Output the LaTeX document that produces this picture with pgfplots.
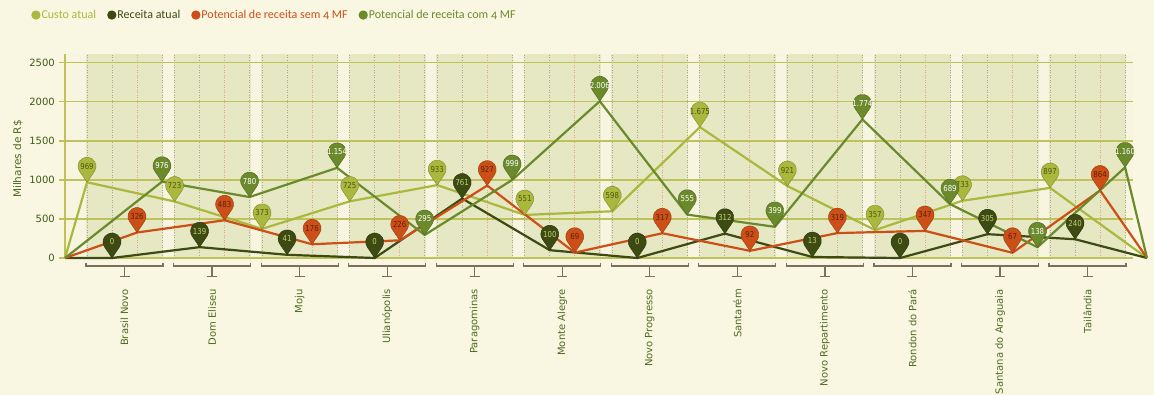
\documentclass[border=0pt]{standalone}
\usepackage{pgfplots}
\pgfplotsset{compat=1.18}
\usepackage{graphicx}
\usepackage{fontspec}
\setmainfont{DejaVu Sans}
\newfontfamily\legfont[Numbers=OldStyle]{Carlito}
\newcommand\tickfont{\fontsize{10bp}{12bp}\selectfont}
\newcommand\pinfont{\fontsize{8.2bp}{9bp}\selectfont}
\definecolor{pagebg}{HTML}{F9F6E2}
\definecolor{plotbg}{HTML}{F7F5E0}
\definecolor{band}{HTML}{E5E8C2}
\definecolor{gridc}{HTML}{BFC25A}
\definecolor{dotg}{HTML}{A9A98F}
\definecolor{dotr}{HTML}{E0A585}
\definecolor{custo}{HTML}{AAB83E}
\definecolor{receita}{HTML}{3D4A12}
\definecolor{potsem}{HTML}{CC4F18}
\definecolor{potcom}{HTML}{6B8A2C}
\definecolor{custotxt}{HTML}{4B5A0E}
\definecolor{receitatxt}{HTML}{C5CF72}
\definecolor{potsemtxt}{HTML}{5A220A}
\definecolor{brk}{HTML}{7D6E5E}
\definecolor{labg}{HTML}{4E6B1F}
\definecolor{tickg}{HTML}{3F5A16}
\pgfdeclareplotmark{pin}{%
  \pgfpathmoveto{\pgfpointorigin}%
  \pgfpathlineto{\pgfpoint{7.44bp}{10.94bp}}%
  \pgfpatharc{-34.2}{214.2}{9bp}%
  \pgfpathclose
  \pgfusepathqfillstroke}
\pgfplotsset{pinlabels/.style={nodes near coords={\scalebox{0.85}[1]{\pgfmathprintnumber{\pgfplotspointmeta}}},
  every node near coord/.append style={anchor=center, yshift=16bp, inner sep=0pt, font=\pinfont, text=#1}}}
\begin{document}
\begin{tikzpicture}
\fill[pagebg] (0,0) rectangle (1154bp,-395bp);
\useasboundingbox (0,0) rectangle (1154bp,-395bp);
\begin{axis}[
  at={(65bp,-258bp)}, anchor=south west,
  scale only axis, width=1068bp, height=204bp,
  xmin=0, xmax=1068, ymin=0, ymax=2610,
  clip=false,
  axis line style={draw=none},
  major tick length=0pt,
  ytick={0,500,1000,1500,2000,2500},
  xtick={59.5,147.05,234.6,322.15,409.7,497.25,584.8,672.35,759.9,847.45,935,1022.55},
  xticklabels={Brasil Novo,Dom Eliseu,Moju,Ulianópolis,Paragominas,Monte Alegre,Novo Progresso,Santarém,Novo Repartimento,Rondon do Pará,Santana do Araguaia,Tailândia},
  xticklabel style={yshift=-31bp, rotate=90, anchor=east, inner sep=0pt, font=\tickfont, text=labg},
  yticklabel style={font=\tickfont, text=tickg, inner sep=0pt, xshift=-10bp, /pgf/number format/1000 sep={}},
  /pgf/number format/assume math mode=true,
  /pgf/number format/1000 sep={.},
  ylabel={Milhares de R\$},
  ylabel style={at={(axis description cs:-0.044,0.485)}, anchor=center, font=\fontsize{10.5bp}{12bp}\selectfont, text=labg},
  legend columns=4,
  legend cell align=left,
  legend style={at={(axis description cs:-0.0345,1.191)}, anchor=west, draw=none, fill=none,
    font=\legfont\fontsize{12bp}{14bp}\selectfont,
    /tikz/every even column/.append style={column sep=10bp}, nodes={inner sep=1bp}},
]
\fill[plotbg] (axis cs:0,0) rectangle (axis cs:1068,2610);
\pgfplotsinvokeforeach{0,...,11}{
  \fill[band] (axis cs:{21+87.55*#1},0) rectangle (axis cs:{98+87.55*#1},2610);
  \draw[dotg, dash pattern=on 1bp off 1.5bp, line width=0.8bp] (axis cs:{22+87.55*#1},0) -- (axis cs:{22+87.55*#1},2610);
  \draw[dotg, dash pattern=on 1bp off 1.5bp, line width=0.8bp] (axis cs:{47+87.55*#1},0) -- (axis cs:{47+87.55*#1},2610);
  \draw[dotr, dash pattern=on 1bp off 1.5bp, line width=0.8bp] (axis cs:{72+87.55*#1},0) -- (axis cs:{72+87.55*#1},2610);
  \draw[dotg, dash pattern=on 1bp off 1.5bp, line width=0.8bp] (axis cs:{97+87.55*#1},0) -- (axis cs:{97+87.55*#1},2610);
  \draw[brk, line width=1.2bp] ([yshift=-4.7bp]axis cs:{21+87.55*#1},0) -- ([yshift=-8bp]axis cs:{21+87.55*#1},0) -- ([yshift=-8bp]axis cs:{98+87.55*#1},0) -- ([yshift=-4.7bp]axis cs:{98+87.55*#1},0);
  \draw[brk, line width=1.2bp] ([yshift=-8bp]axis cs:{59.5+87.55*#1},0) -- ([yshift=-18.7bp]axis cs:{59.5+87.55*#1},0);
  \draw[brk, line width=1.2bp] ([xshift=-5bp,yshift=-18.7bp]axis cs:{59.5+87.55*#1},0) -- ([xshift=5bp,yshift=-18.7bp]axis cs:{59.5+87.55*#1},0);
}
\pgfplotsinvokeforeach{0,500,1000,1500,2000,2500}{
  \draw[gridc, line width=1.5bp] ([xshift=-6bp]axis cs:0,#1) -- (axis cs:1068,#1);
}
\draw[gridc, line width=1.5bp] (axis cs:0,0) -- (axis cs:0,2610);

\addplot[custo, line width=2.2bp, line join=round, legend image code/.code={\fill[custo] (3.5bp,0bp) circle (3.5bp);}] coordinates {
(0,0) (22,969) (109.6,723) (197.1,373) (284.7,725) (372.2,933) (459.8,551) (547.3,598) (634.9,1675) (722.4,921) (810,357) (897.5,733) (985.1,897) (1082,0)};
\addlegendentry{\textcolor{custo}{Custo atual}}
\addplot[receita, line width=2.2bp, line join=round, legend image code/.code={\fill[receita] (3.5bp,0bp) circle (3.5bp);}] coordinates {
(0,0) (47,0) (134.6,139) (222.1,41) (309.7,0) (397.2,761) (484.8,100) (572.3,0) (659.9,312) (747.4,13) (835,0) (922.5,305) (1010.1,240) (1082,0)};
\addlegendentry{\textcolor{receita}{Receita atual}}
\addplot[potsem, line width=2.2bp, line join=round, legend image code/.code={\fill[potsem] (3.5bp,0bp) circle (3.5bp);}] coordinates {
(0,0) (72,326) (159.6,483) (247.1,176) (334.7,226) (422.2,927) (509.8,69) (597.3,317) (684.9,92) (772.4,319) (860,347) (947.5,67) (1035.1,864) (1082,0)};
\addlegendentry{\textcolor{potsem}{Potencial de receita sem 4 MF}}
\addplot[potcom, line width=2.2bp, line join=round, legend image code/.code={\fill[potcom] (3.5bp,0bp) circle (3.5bp);}] coordinates {
(0,0) (97,976) (184.6,780) (272.1,1154) (359.7,295) (447.2,999) (534.8,2006) (622.3,555) (709.9,399) (797.4,1774) (885,689) (972.5,138) (1060.1,1160) (1082,0)};
\addlegendentry{\textcolor{potcom}{Potencial de receita com 4 MF}}

\addplot[forget plot, only marks, mark=pin, mark options={fill=custo, draw=custo!75!black, line width=0.4bp}, pinlabels=custotxt] coordinates {
(22,969) (109.6,723) (197.1,373) (284.7,725) (372.2,933) (459.8,551) (547.3,598) (634.9,1675) (722.4,921) (810,357) (897.5,733) (985.1,897)};
\addplot[forget plot, only marks, mark=pin, mark options={fill=receita, draw=receita!75!black, line width=0.4bp}, pinlabels=receitatxt] coordinates {
(47,0) (134.6,139) (222.1,41) (309.7,0) (397.2,761) (484.8,100) (572.3,0) (659.9,312) (747.4,13) (835,0) (922.5,305) (1010.1,240)};
\addplot[forget plot, only marks, mark=pin, mark options={fill=potsem, draw=potsem!75!black, line width=0.4bp}, pinlabels=potsemtxt] coordinates {
(72,326) (159.6,483) (247.1,176) (334.7,226) (422.2,927) (509.8,69) (597.3,317) (684.9,92) (772.4,319) (860,347) (947.5,67) (1035.1,864)};
\addplot[forget plot, only marks, mark=pin, mark options={fill=potcom, draw=potcom!75!black, line width=0.4bp}, pinlabels=white] coordinates {
(97,976) (184.6,780) (272.1,1154) (359.7,295) (447.2,999) (534.8,2006) (622.3,555) (709.9,399) (797.4,1774) (885,689) (972.5,138) (1060.1,1160)};
\end{axis}
\end{tikzpicture}
\end{document}
